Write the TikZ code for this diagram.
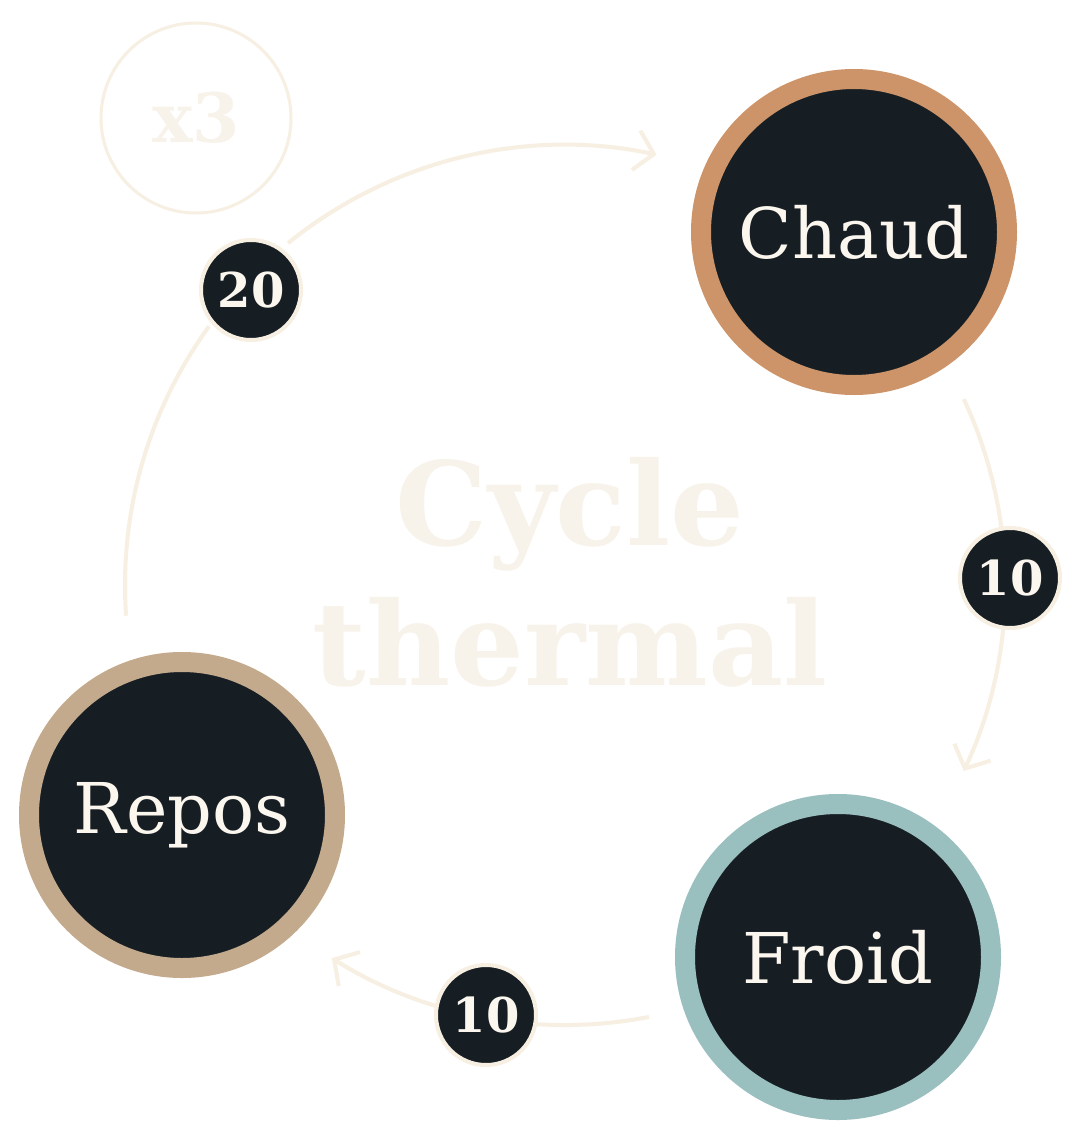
\documentclass[tikz,border=0pt]{standalone}
\usepackage{fontspec}
\setmainfont{DejaVu Serif}
\usetikzlibrary{arrows.meta}
\definecolor{dark}{HTML}{161E24}
\definecolor{cream}{HTML}{F6EFE2}
\definecolor{pale}{HTML}{F8F3EA}
\definecolor{txt}{HTML}{FBF6EE}
\definecolor{chaud}{HTML}{CD9469}
\definecolor{froid}{HTML}{9ABFBF}
\definecolor{repos}{HTML}{C4AA8C}
\begin{document}
\begin{tikzpicture}[x=0.5pt,y=-0.5pt,
  big/.style={circle,fill=dark,draw=#1,line width=10pt,minimum size=153pt,inner sep=0pt,text=txt,font=\fontsize{35}{38}\selectfont},
  badge/.style={circle,fill=dark,draw=cream,line width=2pt,minimum size=50pt,inner sep=0pt,text=txt,font=\fontsize{24}{26}\selectfont\bfseries},
  arc/.style={draw=cream,line width=2pt},
  tip/.style={-{Straight Barb[length=9pt,width=20pt,line width=2pt]}}]
\useasboundingbox[fill=white] (0,0) rectangle (1086,1140);
\coordinate (C) at (565,585);
\node[text=pale,font=\fontsize{58}{70}\selectfont\bfseries,align=center] (title) at (570,572) {Cycle\\thermal};
\node[circle,draw=cream,line width=1.5pt,minimum size=95pt,text=pale,font=\fontsize{34}{36}\selectfont\bfseries] (x3) at (196,118) {x3};
\draw[arc,tip] (C) ++(-129:440) arc (-129:-78:440);
\draw[arc,tip] (C) ++(-25:440) arc (-25:25:440);
\draw[arc,tip] (C) ++(79:440) arc (79:122:440);
\draw[arc] (C) ++(176:440) arc (176:216:440);
\node[big=chaud] (chaud) at (854,232) {Chaud};
\node[big=froid] (froid) at (838,957) {Froid};
\node[big=repos] (repos) at (182,815) {Repos};
\node[badge] (b20) at (251,290) {20};
\node[badge] (b10a) at (1010,578) {10};
\node[badge] (b10b) at (486,1015) {10};
\end{tikzpicture}
\end{document}
